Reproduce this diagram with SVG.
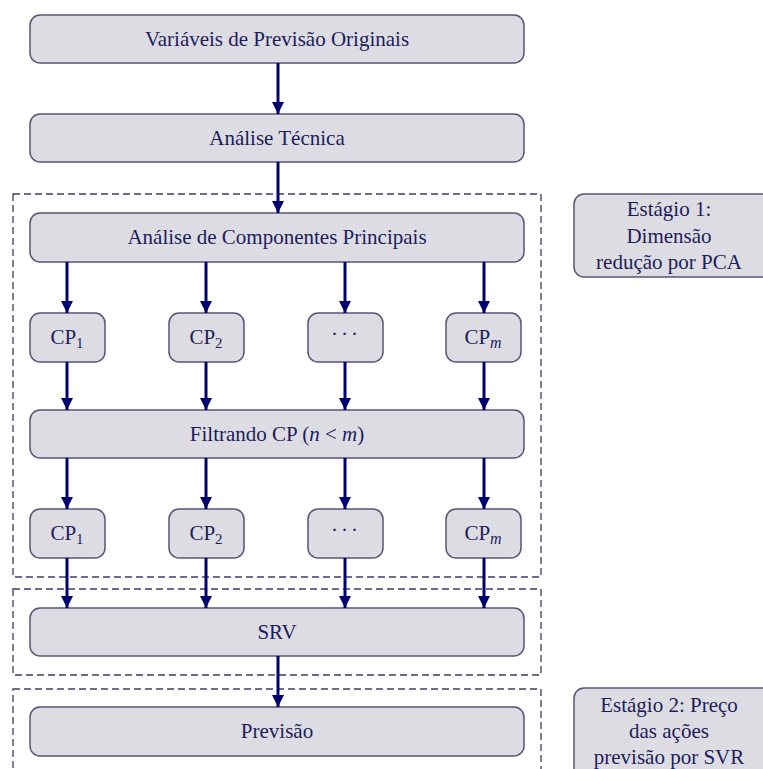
<svg xmlns="http://www.w3.org/2000/svg" width="763" height="769" viewBox="0 0 763 769">
<defs>
<marker id="ah" markerUnits="userSpaceOnUse" markerWidth="12" markerHeight="14" refX="12" refY="6" orient="auto">
<path d="M0,0 L12,6 L0,12 z" fill="#00006e"/>
</marker>
<style>
.box{fill:#dcdce2;stroke:#55557a;stroke-width:1.5}
.dash{fill:none;stroke:#3c3c66;stroke-width:1.3;stroke-dasharray:7,4}
text{font-size:21px;fill:#1c1c5e;text-anchor:middle}
.c line{stroke:#00006e;stroke-width:3;marker-end:url(#ah)}
</style>
</defs>
<rect width="763" height="769" fill="#ffffff"/>
<g id="groups">
<rect class="dash" x="13" y="194" width="528" height="383"/>
<rect class="dash" x="13" y="589" width="528" height="86"/>
<rect class="dash" x="13" y="689" width="528" height="100"/>
</g>
<g font-family="Liberation Serif, Times New Roman, serif">
<g id="n1"><rect class="box" x="30" y="15" width="494" height="48" rx="10"/><text x="277" y="46">Variáveis de Previsão Originais</text></g>
<g id="n2"><rect class="box" x="30" y="114" width="494" height="48" rx="10"/><text x="277" y="145">Análise Técnica</text></g>
<g id="n3"><rect class="box" x="30" y="213" width="494" height="49" rx="10"/><text x="277" y="244">Análise de Componentes Principais</text></g>
<g id="cp1a"><rect class="box" x="30" y="313" width="75" height="49" rx="10"/><text x="67" y="344">CP<tspan font-size="15" dy="4">1</tspan></text></g>
<g id="cp2a"><rect class="box" x="169" y="313" width="75" height="49" rx="10"/><text x="206" y="344">CP<tspan font-size="15" dy="4">2</tspan></text></g>
<g id="cpda"><rect class="box" x="308" y="313" width="75" height="49" rx="10"/><text x="346" y="341" letter-spacing="3">···</text></g>
<g id="cpma"><rect class="box" x="446" y="313" width="75" height="49" rx="10"/><text x="483" y="344">CP<tspan font-size="16" dy="4" font-style="italic">m</tspan></text></g>
<g id="n4"><rect class="box" x="30" y="410" width="494" height="48" rx="10"/><text x="277" y="441">Filtrando CP (<tspan font-style="italic">n</tspan> &lt; <tspan font-style="italic">m</tspan>)</text></g>
<g id="cp1b"><rect class="box" x="30" y="509" width="75" height="49" rx="10"/><text x="67" y="540">CP<tspan font-size="15" dy="4">1</tspan></text></g>
<g id="cp2b"><rect class="box" x="169" y="509" width="75" height="49" rx="10"/><text x="206" y="540">CP<tspan font-size="15" dy="4">2</tspan></text></g>
<g id="cpdb"><rect class="box" x="308" y="509" width="75" height="49" rx="10"/><text x="346" y="537" letter-spacing="3">···</text></g>
<g id="cpmb"><rect class="box" x="446" y="509" width="75" height="49" rx="10"/><text x="483" y="540">CP<tspan font-size="16" dy="4" font-style="italic">m</tspan></text></g>
<g id="n5"><rect class="box" x="30" y="608" width="494" height="48" rx="10"/><text x="277" y="639">SRV</text></g>
<g id="n6"><rect class="box" x="30" y="707" width="494" height="49" rx="10"/><text x="277" y="738">Previsão</text></g>
<g id="stage1"><rect class="box" x="574" y="194" width="210" height="83" rx="10"/><text x="669" y="216">Estágio 1:</text><text x="669" y="243">Dimensão</text><text x="669" y="269">redução por PCA</text></g>
<g id="stage2"><rect class="box" x="574" y="688" width="210" height="100" rx="10"/><text x="669" y="712">Estágio 2:  Preço</text><text x="669" y="738">das ações</text><text x="669" y="764">previsão por SVR</text></g>
</g>
<g id="connectors" class="c">
<line x1="278" y1="63" x2="278" y2="114"/>
<line x1="278" y1="162" x2="278" y2="213"/>
<line x1="67" y1="262" x2="67" y2="313"/>
<line x1="206" y1="262" x2="206" y2="313"/>
<line x1="345" y1="262" x2="345" y2="313"/>
<line x1="484" y1="262" x2="484" y2="313"/>
<line x1="67" y1="362" x2="67" y2="410"/>
<line x1="206" y1="362" x2="206" y2="410"/>
<line x1="345" y1="362" x2="345" y2="410"/>
<line x1="484" y1="362" x2="484" y2="410"/>
<line x1="67" y1="458" x2="67" y2="509"/>
<line x1="206" y1="458" x2="206" y2="509"/>
<line x1="345" y1="458" x2="345" y2="509"/>
<line x1="484" y1="458" x2="484" y2="509"/>
<line x1="67" y1="558" x2="67" y2="608"/>
<line x1="206" y1="558" x2="206" y2="608"/>
<line x1="345" y1="558" x2="345" y2="608"/>
<line x1="484" y1="558" x2="484" y2="608"/>
<line x1="278" y1="656" x2="278" y2="707"/>
</g>
</svg>
